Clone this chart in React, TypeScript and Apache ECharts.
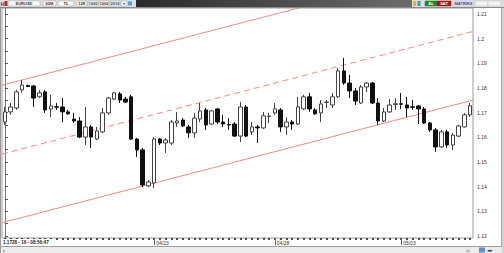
import React, { useEffect, useRef } from 'react';
import * as echarts from 'echarts';

const symbolName = 'EURUSD';
const lastPriceLabel = '1.1728 - 16 - 08:56:47';

const openValues = [
  1.1662, 1.1703, 1.1719, 1.1792, 1.1810, 1.1808, 1.1764, 1.1784, 1.1715, 1.1724,
  1.1723, 1.1703, 1.1674, 1.1666, 1.1601, 1.1642, 1.1593, 1.1622, 1.1699, 1.1755,
  1.1776, 1.1755, 1.1764, 1.1593, 1.1549, 1.1403, 1.1415, 1.1593, 1.1577, 1.1577,
  1.1658, 1.1670, 1.1642, 1.1618, 1.1674, 1.1711, 1.1654, 1.1715, 1.1662, 1.1652,
  1.1654, 1.1605, 1.1723, 1.1622, 1.1642, 1.1638, 1.1684, 1.1699, 1.1711, 1.1642,
  1.1662, 1.1654, 1.1715, 1.1764, 1.1711, 1.1699, 1.1741, 1.1731, 1.1764, 1.1869,
  1.1820, 1.1788, 1.1739, 1.1804, 1.1820, 1.1739, 1.1666, 1.1703, 1.1733, 1.1736,
  1.1731, 1.1724, 1.1727, 1.1715, 1.1658, 1.1630, 1.1561, 1.1622, 1.1569, 1.1605,
  1.1642, 1.1691,
];
const closeValues = [
  1.1703, 1.1723, 1.1784, 1.1812, 1.1806, 1.1759, 1.1780, 1.1711, 1.1727, 1.1722,
  1.1703, 1.1695, 1.1666, 1.1601, 1.1642, 1.1601, 1.1626, 1.1699, 1.1759, 1.1780,
  1.1751, 1.1743, 1.1593, 1.1549, 1.1407, 1.1419, 1.1593, 1.1577, 1.1589, 1.1662,
  1.1666, 1.1646, 1.1618, 1.1678, 1.1707, 1.1650, 1.1707, 1.1662, 1.1654, 1.1650,
  1.1605, 1.1723, 1.1605, 1.1642, 1.1638, 1.1687, 1.1686, 1.1715, 1.1642, 1.1662,
  1.1654, 1.1723, 1.1764, 1.1715, 1.1695, 1.1735, 1.1743, 1.1764, 1.1869, 1.1820,
  1.1788, 1.1747, 1.1804, 1.1820, 1.1739, 1.1666, 1.1703, 1.1731, 1.1736, 1.1734,
  1.1719, 1.1722, 1.1715, 1.1658, 1.1630, 1.1561, 1.1622, 1.1569, 1.1609, 1.1646,
  1.1691, 1.1728,
];
const lowValues = [
  1.1650, 1.1691, 1.1711, 1.1780, 1.1804, 1.1723, 1.1759, 1.1699, 1.1682, 1.1711,
  1.1662, 1.1691, 1.1658, 1.1597, 1.1569, 1.1557, 1.1589, 1.1618, 1.1691, 1.1751,
  1.1739, 1.1739, 1.1589, 1.1520, 1.1399, 1.1399, 1.1395, 1.1569, 1.1537, 1.1569,
  1.1642, 1.1642, 1.1597, 1.1597, 1.1662, 1.1630, 1.1650, 1.1654, 1.1642, 1.1630,
  1.1601, 1.1581, 1.1601, 1.1609, 1.1577, 1.1634, 1.1658, 1.1691, 1.1622, 1.1609,
  1.1630, 1.1650, 1.1711, 1.1703, 1.1691, 1.1662, 1.1719, 1.1719, 1.1759, 1.1812,
  1.1759, 1.1731, 1.1735, 1.1784, 1.1735, 1.1650, 1.1662, 1.1699, 1.1711, 1.1715,
  1.1682, 1.1711, 1.1654, 1.1654, 1.1622, 1.1541, 1.1557, 1.1557, 1.1549, 1.1601,
  1.1640, 1.1682,
];
const highValues = [
  1.1723, 1.1739, 1.1792, 1.1832, 1.1813, 1.1812, 1.1792, 1.1792, 1.1772, 1.1739,
  1.1759, 1.1711, 1.1699, 1.1682, 1.1723, 1.1650, 1.1642, 1.1719, 1.1764, 1.1784,
  1.1784, 1.1764, 1.1772, 1.1597, 1.1557, 1.1427, 1.1601, 1.1597, 1.1597, 1.1670,
  1.1703, 1.1678, 1.1650, 1.1699, 1.1739, 1.1719, 1.1711, 1.1719, 1.1691, 1.1678,
  1.1662, 1.1743, 1.1731, 1.1662, 1.1650, 1.1703, 1.1699, 1.1739, 1.1719, 1.1682,
  1.1670, 1.1764, 1.1772, 1.1780, 1.1719, 1.1751, 1.1751, 1.1780, 1.1881, 1.1922,
  1.1853, 1.1800, 1.1812, 1.1824, 1.1824, 1.1759, 1.1719, 1.1755, 1.1759, 1.1780,
  1.1764, 1.1751, 1.1731, 1.1723, 1.1662, 1.1638, 1.1630, 1.1630, 1.1618, 1.1650,
  1.1699, 1.1739,
];

const dateLabels = ['04/23', '04/28', '05/03'];
const dateLabelIndex = [26, 47, 69];

const yLabelValues = [1.12, 1.13, 1.14, 1.15, 1.16, 1.17, 1.18, 1.19, 1.2, 1.21];
const yTickValues = [
  1.12, 1.125, 1.13, 1.135, 1.14, 1.145, 1.15, 1.155, 1.16, 1.165,
  1.17, 1.175, 1.18, 1.185, 1.19, 1.195, 1.2, 1.205, 1.21,
];
const yMin = 1.1192;
const yMax = 1.2124;

// regression channel: upper, middle, lower — price at left and right edge of the chart
const channelNames = ['upper', 'middle', 'lower'];
const channelLeft = [1.1811, 1.1532, 1.1254];
const channelRight = [1.2308, 1.2029, 1.1751];

const toolbarLeftBoxes = ['60M', 'TL', '12K', '1000', '1000', '2016'];

const FONT = 'Liberation Sans, Arial, sans-serif';

export default function App() {
  const ref = useRef<HTMLDivElement>(null);

  useEffect(() => {
    if (!ref.current) return;
    const chart = echarts.init(ref.current, undefined, { renderer: 'svg' });
    const categories = openValues.map((_, i) => String(i));
    const candles = openValues.map((o, i) => [o, closeValues[i], lowValues[i], highValues[i]]);
    const n = openValues.length;

    const channelSeries = channelNames.map((name, k) => ({
      name,
      type: 'line',
      xAxisIndex: 1,
      yAxisIndex: 0,
      data: [
        [-0.5, channelLeft[k]],
        [n - 0.5, channelRight[k]],
      ],
      symbol: 'none',
      silent: true,
      clip: true,
      z: 2,
      lineStyle: {
        color: '#f08a8a',
        width: 1,
        type: k === 1 ? [6, 4] : 'solid',
      },
    }));

    const graphics: any[] = [];
    const addBox = (x: number, w: number, text: string, fill = '#ffffff', color = '#333', stroke = '#9a9a9a') => {
      graphics.push({
        type: 'rect',
        z: 20,
        shape: { x, y: 1, width: w, height: 5 },
        style: { fill, stroke, lineWidth: 0.5 },
      });
      if (text) {
        graphics.push({
          type: 'text',
          z: 21,
          x: x + w / 2,
          y: 3.6,
          style: { text, fill: color, font: `bold 4px ${FONT}`, align: 'center', verticalAlign: 'middle' },
        });
      }
    };

    // toolbar background
    graphics.push({ type: 'rect', z: 10, shape: { x: 0, y: 0, width: 504, height: 7 }, style: { fill: '#dedede' } });
    graphics.push({
      type: 'rect',
      z: 11,
      shape: { x: 136, y: 0, width: 276, height: 7 },
      style: {
        fill: new echarts.graphic.LinearGradient(0, 0, 1, 0, [
          { offset: 0, color: '#2a2a2a' },
          { offset: 1, color: '#6c6c6c' },
        ]),
      },
    });
    graphics.push({ type: 'line', z: 11, shape: { x1: 0, y1: 7.5, x2: 504, y2: 7.5 }, style: { stroke: '#8a8a8a', lineWidth: 1 } });
    graphics.push({ type: 'text', z: 21, x: 0.5, y: 3.6, style: { text: 'H', fill: '#1d3f8f', font: `bold 5px ${FONT}`, verticalAlign: 'middle' } });
    graphics.push({ type: 'rect', z: 20, shape: { x: 4.5, y: 1, width: 3, height: 5 }, style: { fill: '#c4262b' } });
    addBox(8, 32, symbolName);
    const boxX = [43, 58, 77, 88, 99, 110];
    const boxW = [13, 16, 10, 10, 10, 10];
    toolbarLeftBoxes.forEach((t, i) => addBox(boxX[i], boxW[i], t));
    addBox(121, 6, '▾', '#ffffff', '#2a5fc0');
    graphics.push({ type: 'rect', z: 20, shape: { x: 128, y: 1.5, width: 4, height: 4 }, style: { fill: '#4aa3df' } });
    graphics.push({ type: 'rect', z: 20, shape: { x: 413, y: 1, width: 3, height: 5 }, style: { fill: '#e6b123' } });
    graphics.push({ type: 'rect', z: 20, shape: { x: 417.5, y: 1, width: 3, height: 5 }, style: { fill: '#3c9fb2' } });
    addBox(425, 12, 'AL', '#1f8a2c', '#ffffff', '#1f8a2c');
    addBox(437, 14, 'SAT', '#a3191b', '#ffffff', '#a3191b');
    addBox(453, 21, 'MATRIKS', '#e6e6ee', '#3b3b9c', '#bdbdbd');
    addBox(475, 13, '', '#f4f4f4', '#333', '#bdbdbd');
    addBox(488, 13, '', '#f4f4f4', '#333', '#bdbdbd');

    // frame
    graphics.push({ type: 'line', z: 10, shape: { x1: 0.5, y1: 7, x2: 0.5, y2: 253 }, style: { stroke: '#9a9a9a', lineWidth: 1 } });
    graphics.push({ type: 'line', z: 10, shape: { x1: 501.5, y1: 7, x2: 501.5, y2: 247 }, style: { stroke: '#a8a8a8', lineWidth: 1 } });
    graphics.push({ type: 'rect', z: 10, shape: { x: 502, y: 7, width: 2, height: 246 }, style: { fill: '#d4d4d4' } });
    // bottom status row
    graphics.push({ type: 'line', z: 10, shape: { x1: 0, y1: 246.5, x2: 502, y2: 246.5 }, style: { stroke: '#a0a0a0', lineWidth: 1 } });
    graphics.push({ type: 'rect', z: 10, shape: { x: 1, y: 247, width: 501, height: 6 }, style: { fill: '#ececec' } });
    graphics.push({ type: 'text', z: 21, x: 3, y: 250, style: { text: 'ﾑ', fill: '#555', font: `4px ${FONT}`, verticalAlign: 'middle' } });
    graphics.push({ type: 'text', z: 21, x: 466, y: 250, style: { text: 'ﾑﾑ', fill: '#555', font: `4px ${FONT}`, verticalAlign: 'middle' } });
    graphics.push({ type: 'rect', z: 20, shape: { x: 479, y: 247.5, width: 6, height: 5 }, style: { fill: '#5b8fd0' } });
    graphics.push({ type: 'text', z: 21, x: 487, y: 250, style: { text: '◂▸', fill: '#234', font: `5px ${FONT}`, verticalAlign: 'middle' } });
    // last price / time stamp
    graphics.push({ type: 'rect', z: 20, shape: { x: 2, y: 239, width: 54, height: 6.5 }, style: { fill: '#ffffff' } });
    graphics.push({
      type: 'text',
      z: 21,
      x: 3,
      y: 242.3,
      style: { text: lastPriceLabel, fill: '#222', font: `bold 4.6px ${FONT}`, verticalAlign: 'middle' },
    });

    const option: any = {
      animation: false,
      backgroundColor: '#ffffff',
      grid: {
        left: 2,
        right: 31,
        top: 8,
        bottom: 15,
        show: true,
        borderColor: '#9a9a9a',
        borderWidth: 1,
        backgroundColor: '#ffffff',
      },
      xAxis: [
        {
          type: 'category',
          data: categories,
          boundaryGap: true,
          position: 'bottom',
          axisLine: { show: false },
          axisTick: {
            show: true,
            interval: 0,
            alignWithLabel: true,
            length: 2,
            lineStyle: { color: '#222', width: 1.6 },
          },
          axisLabel: {
            show: true,
            interval: (i: number) => dateLabelIndex.includes(i),
            formatter: (v: string) => {
              const k = dateLabelIndex.indexOf(Number(v));
              return k >= 0 ? dateLabels[k] : '';
            },
            fontSize: 5,
            fontFamily: FONT,
            color: '#333',
            align: 'left',
            margin: 2,
            padding: [0, 0, 0, 2],
          },
          splitLine: { show: false },
        },
        {
          type: 'value',
          min: -0.5,
          max: n - 0.5,
          show: false,
        },
        {
          type: 'category',
          data: categories,
          boundaryGap: true,
          position: 'bottom',
          axisLine: { show: false },
          axisTick: {
            show: true,
            interval: (i: number) => dateLabelIndex.includes(i),
            alignWithLabel: true,
            length: 7,
            lineStyle: { color: '#666', width: 1 },
          },
          axisLabel: { show: false },
          splitLine: { show: false },
        },
      ],
      yAxis: [
        {
          type: 'value',
          position: 'right',
          offset: 3,
          min: yMin,
          max: yMax,
          axisLine: { show: true, lineStyle: { color: '#777', width: 1 } },
          axisTick: {
            show: true,
            customValues: yTickValues,
            length: 3,
            lineStyle: { color: '#555' },
          },
          axisLabel: {
            show: true,
            customValues: yLabelValues,
            formatter: (v: number) => String(Number(Number(v).toFixed(2))),
            fontSize: 5,
            fontFamily: FONT,
            color: '#333',
            margin: 1,
          },
          splitLine: { show: false },
        },
      ],
      series: [
        ...channelSeries,
        {
          name: symbolName,
          type: 'candlestick',
          xAxisIndex: 0,
          yAxisIndex: 0,
          data: candles,
          barWidth: 4,
          z: 3,
          itemStyle: {
            color: '#ffffff',
            color0: '#111111',
            borderColor: '#444444',
            borderColor0: '#111111',
            borderWidth: 1,
          },
        },
      ],
      graphic: graphics,
    };

    chart.setOption(option);
    return () => chart.dispose();
  }, []);

  return (
    <div
      ref={ref}
      style={{ position: 'fixed', left: 0, top: 0, width: 504, height: 253, background: '#ffffff' }}
    />
  );
}
